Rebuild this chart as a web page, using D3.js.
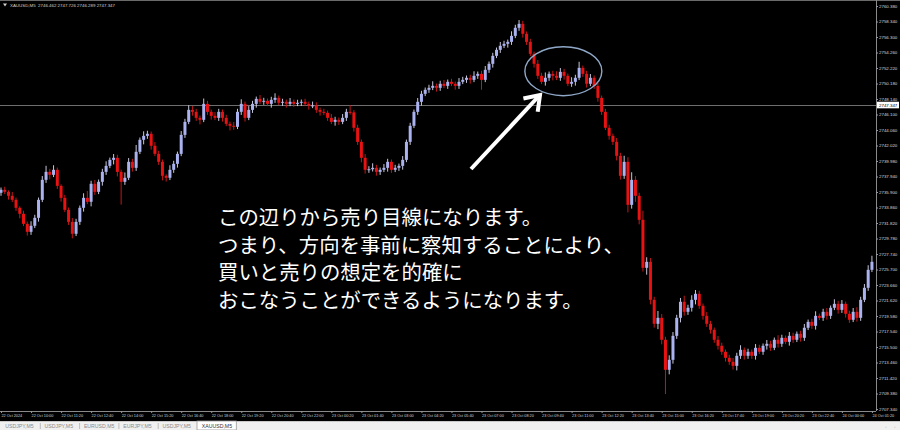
<!DOCTYPE html>
<html><head><meta charset="utf-8">
<script src="https://cdn.jsdelivr.net/npm/d3@7"></script>
<style>html,body{margin:0;padding:0;background:#000;overflow:hidden}svg{display:block}</style>
</head><body>
<svg id="c" width="900" height="430"></svg>
<script>
const header = ["XAUUSD,M5", "2746.462", "2747.726", "2746.289", "2747.347"];
const lastPrice = 2747.347;
const timeLabels = ["22 Oct 2024","22 Oct 10:00","22 Oct 11:20","22 Oct 12:40","22 Oct 14:00","22 Oct 15:20","22 Oct 16:40","22 Oct 18:00","22 Oct 19:20","22 Oct 20:40","22 Oct 22:00","23 Oct 00:20","23 Oct 01:40","23 Oct 03:00","23 Oct 04:20","23 Oct 05:40","23 Oct 07:00","23 Oct 08:20","23 Oct 09:40","23 Oct 11:00","23 Oct 12:20","23 Oct 13:40","23 Oct 15:00","23 Oct 16:20","23 Oct 17:40","23 Oct 19:00","23 Oct 20:20","23 Oct 22:40","24 Oct 00:00","24 Oct 01:20"];
const priceTicks = [2760.380,2758.340,2756.300,2754.260,2752.220,2750.180,2748.140,2746.100,2744.060,2742.020,2739.980,2737.940,2735.900,2733.860,2731.820,2729.780,2727.740,2725.700,2723.660,2721.620,2719.580,2717.540,2715.500,2713.460,2711.420,2709.380,2707.340];
const tabs = ["USDJPY,M5","USDJPY,M5","EURUSD,M5","EURJPY,M5","USDJPY,M5","XAUUSD,M5"];
const noteLines = ["この辺りから売り目線になります。","つまり、方向を事前に察知することにより、","買いと売りの想定を的確に","おこなうことができるようになります。"];
const firstOpen = 2735.80;
const closes = [
2736.19,2735.92,2735.40,2734.87,2733.82,2733.03,2731.71,2730.66,2731.45,2732.50,
2734.87,2737.50,2738.55,2738.16,2738.82,2736.71,2735.13,2733.55,2731.97,2730.40,
2731.97,2733.82,2735.13,2734.61,2736.98,2735.92,2737.24,2738.55,2739.34,2740.13,
2740.40,2738.55,2737.24,2737.77,2739.87,2739.08,2741.19,2742.77,2743.29,2743.56,
2741.98,2740.92,2739.87,2738.03,2737.77,2738.82,2739.61,2740.92,2743.42,2745.13,
2746.71,2746.45,2745.66,2745.40,2747.50,2746.45,2745.92,2745.66,2746.45,2745.66,
2744.87,2744.61,2744.48,2746.45,2747.50,2745.66,2746.71,2747.50,2748.16,2747.77,
2747.90,2747.50,2748.03,2748.29,2747.64,2747.77,2747.50,2747.77,2747.50,2747.64,
2747.77,2747.50,2747.24,2747.30,2746.71,2746.45,2746.32,2745.66,2745.13,2745.40,
2745.13,2745.66,2746.45,2746.38,2744.35,2742.50,2740.40,2738.82,2738.90,2739.08,
2738.55,2738.82,2739.08,2739.87,2738.82,2739.08,2739.34,2740.13,2742.50,2744.61,
2746.45,2747.77,2748.82,2749.35,2749.61,2749.87,2749.61,2750.14,2749.87,2750.40,
2750.14,2749.87,2750.40,2750.66,2750.93,2750.66,2751.19,2751.45,2750.66,2751.98,
2752.77,2753.82,2754.61,2755.14,2755.40,2755.66,2756.45,2757.51,2758.03,2756.72,
2755.66,2754.08,2752.77,2751.19,2750.40,2750.93,2751.45,2751.19,2750.93,2751.71,
2751.19,2750.14,2750.40,2750.93,2752.24,2751.45,2750.14,2750.93,2749.87,2748.29,
2746.45,2744.35,2743.29,2742.50,2740.66,2738.03,2739.87,2734.21,2737.50,2735.40,
2732.24,2725.92,2726.71,2721.71,2718.55,2719.34,2716.45,2712.50,2713.81,2716.97,
2719.34,2721.45,2720.13,2720.66,2721.71,2722.50,2720.92,2719.60,2718.55,2717.76,
2716.45,2715.66,2714.87,2714.08,2713.55,2713.02,2714.34,2715.13,2714.34,2714.87,
2714.34,2715.39,2714.87,2715.66,2715.92,2715.39,2716.45,2715.92,2716.71,2716.18,
2716.97,2716.45,2717.24,2716.71,2718.03,2718.81,2718.29,2719.60,2719.34,2720.13,
2719.60,2720.66,2721.18,2720.39,2721.18,2719.87,2719.08,2720.13,2719.34,2721.71,
2723.29,2725.66,2726.71];
const wickUp = [
.3,.4,.2,.5,.3,.2,.4,.3,.6,.4,.3,.5,.8,.4,.6,.3,.2,.4,.3,.5,
.4,.3,.6,.9,.4,.5,.3,.4,.6,.3,.5,.4,.3,.7,.5,.4,.9,.3,.6,.4,
.3,.5,.4,.3,.2,.6,.4,.3,.5,.4,.6,.5,.4,.3,.7,.4,.3,.5,.4,.3,
.4,.3,.5,.4,.6,.3,.5,.4,.3,.5,.4,.3,.4,.6,.3,.4,.3,.5,.3,.4,
.3,.4,.3,.5,.4,.3,.4,.3,.5,.4,.3,.5,.4,.9,.3,.4,.3,.5,.4,.6,
.4,.3,.5,.4,.3,.4,.3,.5,.3,.4,.3,.5,.4,.3,.4,.6,.3,.4,.5,.3,
.4,.3,.5,.4,.3,.4,.6,.3,.4,.5,.3,.4,.3,.5,.4,.3,.6,.4,.5,.4,
.3,.4,.3,.5,.4,.7,.3,.4,.6,.5,.4,.3,.6,.4,.8,.3,.4,.5,.3,.4,
.3,.4,.4,.3,.5,.4,.8,.6,1.0,.5,.4,1.2,.6,.5,.4,.9,.5,.4,.6,.5,
.4,.5,.8,.4,.6,.5,.4,.3,.5,.4,.3,.5,.4,.3,.4,.5,.4,.6,.3,.4,
.3,.5,.4,.3,.5,.4,.3,.6,.4,.3,.5,.4,.3,.4,.5,.3,.4,.6,.3,.4,
.5,.3,.6,.4,.5,.3,.4,.5,.6,.4,.5,.6,.8];
const wickDn = [
.4,.3,.5,.3,.4,.6,.3,.5,.4,.3,.5,.3,.4,.6,.3,.4,.5,.3,.4,.6,
.3,.4,.5,.3,.6,.4,.3,.5,.4,.3,.6,.6,3.0,.4,.3,.5,.4,.3,.6,.4,
.5,.3,.4,.6,.5,.3,.4,.5,.3,.4,.3,.5,.4,.6,.3,.4,.5,.3,.4,.5,
.3,.6,.4,.3,.4,.5,.3,.4,.5,.3,.4,.3,.5,.4,.3,.4,.5,.3,.4,.3,
.4,.3,.5,.3,.4,.5,.3,.4,.3,.5,.4,.3,.4,.3,.5,.4,.6,.5,.4,.3,
.5,.4,.3,.5,.4,.3,.4,.5,.3,.4,.3,.4,.5,.3,.4,.3,.5,.4,.3,.4,
.3,.5,.4,.3,.4,.5,.3,.4,1.3,.3,.4,.5,.3,.4,.3,.5,.4,.3,.4,.5,
.4,.3,.5,.4,.3,.5,.4,.6,.3,.4,.5,.3,.4,.5,.3,.4,.5,.3,.4,.5,
.4,.3,.5,.4,.6,.5,.4,1.0,.5,.8,.6,.5,.9,.6,.5,.7,.6,3.2,.6,.5,
.4,.6,.5,.4,.5,.6,.4,.5,.4,.5,.4,.5,.4,.5,.4,.5,.6,.4,.5,.4,
.4,.5,.3,.4,.5,.4,.3,.5,.4,.3,.5,.4,.3,.5,.4,.3,.4,.5,.3,.4,
.5,.4,.3,.5,.4,.5,.4,.3,.5,.4,.3,.4,.3];

const W = 900, H = 430, axisX = 876, plotBottom = 411;
const svg = d3.select("#c");
svg.append("rect").attr("width", W).attr("height", H).attr("fill", "#000");

const x = d3.scaleLinear().domain([0, closes.length - 1]).range([1, 1 + (closes.length - 1) * 3.754]);
const y = d3.scaleLinear().domain([2707.34, 2760.38]).range([409, 6]);

const candles = closes.map((c, i) => {
  const o = i ? closes[i - 1] : firstOpen;
  return { i, o, c, h: Math.max(o, c) + wickUp[i], l: Math.min(o, c) - wickDn[i] };
});

// frame lines
svg.append("line").attr("x1", 0).attr("x2", W).attr("y1", 0.5).attr("y2", 0.5).attr("stroke", "#6a6a6a");

// current price line
svg.append("line").attr("x1", 0).attr("x2", axisX).attr("y1", Math.round(y(lastPrice)) + 0.5).attr("y2", Math.round(y(lastPrice)) + 0.5)
  .attr("stroke", "#6e6e6e").attr("stroke-width", 1);

// candles
const bullBody = "#aab2f0", bearBody = "#e81212";
const g = svg.append("g");
g.selectAll("line.w").data(candles).join("line").attr("class", "w")
  .attr("x1", d => x(d.i)).attr("x2", d => x(d.i))
  .attr("y1", d => y(d.h)).attr("y2", d => y(d.l))
  .attr("stroke", d => d.c >= d.o ? "#dcdcf4" : "#d81a1a").attr("stroke-width", 0.9);
g.selectAll("rect.b").data(candles).join("rect").attr("class", "b")
  .attr("x", d => x(d.i) - 1.5).attr("width", 3.0)
  .attr("y", d => y(Math.max(d.o, d.c)))
  .attr("height", d => Math.max(1, Math.abs(y(d.o) - y(d.c))))
  .attr("fill", d => d.c >= d.o ? bullBody : bearBody);

// right price axis
const yAxis = d3.axisRight(y).tickValues(priceTicks).tickFormat(d3.format(".3f")).tickSize(2).tickPadding(1);
const ya = svg.append("g").attr("transform", `translate(${axisX},0)`).call(yAxis);
ya.select(".domain").attr("stroke", "#8a8a8a").attr("d", `M0.5,0V${plotBottom}`);
ya.selectAll(".tick line").attr("stroke", "#9a9a9a");
ya.selectAll(".tick text").attr("fill", "#d8d8d8").attr("font-size", 4.4).attr("font-family", "Liberation Sans, Arial, sans-serif");

// price label box
const py = y(lastPrice);
svg.append("rect").attr("x", axisX + 1).attr("y", py - 3.3).attr("width", 22).attr("height", 6.6).attr("fill", "#ffffff");
svg.append("text").attr("x", axisX + 3).attr("y", py + 1.6).attr("fill", "#000").attr("font-size", 4.4)
  .attr("font-family", "Liberation Sans, Arial, sans-serif").text(lastPrice.toFixed(3));

// bottom time axis
const tickIdx = timeLabels.map((_, k) => k * 8);
const xAxis = d3.axisBottom(x).tickValues(tickIdx).tickFormat(i => timeLabels[i / 8]).tickSize(2).tickPadding(1);
const xa = svg.append("g").attr("transform", `translate(0,${plotBottom})`).call(xAxis);
xa.select(".domain").attr("stroke", "#8a8a8a").attr("d", `M0,0.5H${axisX}`);
xa.selectAll(".tick line").attr("stroke", "#9a9a9a");
xa.selectAll(".tick text").attr("fill", "#d0d0d0").attr("font-size", 3.8).attr("text-anchor", "start")
  .attr("dx", 0).attr("font-family", "Liberation Sans, Arial, sans-serif");

// header
svg.append("path").attr("d", "M3,3.5L7,3.5L5,6.5Z").attr("fill", "#cfcfcf");
svg.append("text").attr("x", 10).attr("y", 6.6).attr("fill", "#d0d0d0").attr("font-size", 4.4)
  .attr("font-family", "Liberation Sans, Arial, sans-serif").attr("xml:space", "preserve")
  .text(header[0] + "  " + header.slice(1).join(" "));

// tab bar
svg.append("rect").attr("x", 0).attr("y", 421).attr("width", W).attr("height", 9).attr("fill", "#f0f0f0");
svg.append("line").attr("x1", 0).attr("x2", W).attr("y1", 421.5).attr("y2", 421.5).attr("stroke", "#c8c8c8");
const tabW = 39.3;
tabs.forEach((t, k) => {
  const tx = 1 + k * tabW;
  const active = k === tabs.length - 1;
  if (active) {
    svg.append("rect").attr("x", tx - 0.5).attr("y", 421).attr("width", tabW).attr("height", 9)
      .attr("fill", "#fff").attr("stroke", "#9a9a9a").attr("stroke-width", 0.8);
  } else if (k > 0) {
    svg.append("line").attr("x1", tx).attr("x2", tx).attr("y1", 423).attr("y2", 429).attr("stroke", "#a8a8a8").attr("stroke-width", 0.7);
  }
  svg.append("text").attr("x", tx + 4.3).attr("y", 427.8).attr("fill", active ? "#333" : "#8a8a8a")
    .attr("font-size", 5.2).attr("font-family", "Liberation Sans, Arial, sans-serif").text(t);
});
svg.append("text").attr("x", 885).attr("y", 428).attr("fill", "#999").attr("font-size", 5).text("‹");
svg.append("text").attr("x", 894).attr("y", 428).attr("fill", "#999").attr("font-size", 5).text("›");

// annotation: ellipse around consolidation
svg.append("ellipse").attr("cx", x(149.8)).attr("cy", y(2751.8)).attr("rx", 38.5).attr("ry", 24.5)
  .attr("fill", "none").attr("stroke", "#8fa8c8").attr("stroke-width", 1.4);

// arrow
const arrow = svg.append("g").attr("stroke", "#fff").attr("stroke-width", 4).attr("stroke-linecap", "butt").attr("fill", "none");
arrow.append("line").attr("x1", 471).attr("y1", 169).attr("x2", 538).attr("y2", 97);
arrow.append("path").attr("d", "M523.4,98.5L540,95L537.7,111.8").attr("stroke-linejoin", "miter");

// note text
const nt = svg.append("g").attr("font-family", "'Noto Sans CJK JP', 'Noto Sans CJK SC', sans-serif")
  .attr("font-size", 20.4).attr("fill", "#fff");
noteLines.forEach((s, k) => {
  nt.append("text").attr("x", 218).attr("y", 225 + k * 27.6).text(s);
});
</script>
</body></html>
